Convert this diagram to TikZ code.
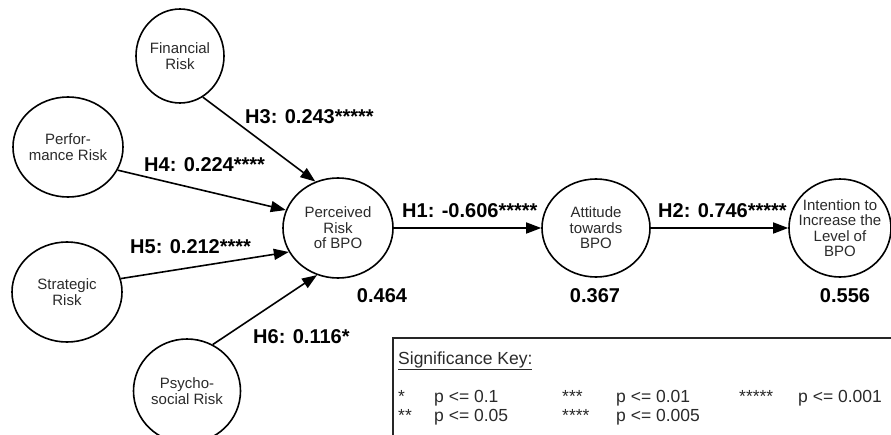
\documentclass[tikz,border=0pt]{standalone}
\usepackage{fontspec}
\setmainfont{Liberation Sans}
\usetikzlibrary{shapes.geometric,arrows.meta}
\definecolor{txtgray}{HTML}{2A2A2A}
\tikzset{
  circ/.style={ellipse, draw=black, line width=1.6pt, inner sep=0pt, minimum width=#1},
  lab/.style={align=center, text=txtgray, font=\fontsize{15}{15.5}\selectfont, inner sep=0pt},
  coef/.style={font=\fontsize{20}{24}\selectfont\bfseries, inner sep=0pt, anchor=west},
  rsq/.style={font=\fontsize{20}{24}\selectfont\bfseries, inner sep=0pt},
  keytxt/.style={font=\fontsize{17.5}{19}\selectfont, text=txtgray, inner sep=0pt, anchor=base west},
  arr/.style={line width=1.6pt, -{Triangle[length=15pt,width=11pt]}}
}
\begin{document}
\begin{tikzpicture}[x=1pt,y=-1pt]
\useasboundingbox (0,0) rectangle (891,434);
% nodes
\node[circ=88pt, minimum height=94pt, label={[lab]center:Financial\\Risk}] (fin) at (180,56) {};
\node[circ=110pt, minimum height=100pt, label={[lab]center:Perfor-\\mance Risk}] (perf) at (68,147) {};
\node[circ=110pt, minimum height=100pt, label={[lab]center:Strategic\\Risk}] (strat) at (67,292) {};
\node[circ=107pt, minimum height=104pt, label={[lab]center:Psycho-\\social Risk}] (psy) at (187,391) {};
\node[circ=110pt, minimum height=100pt, label={[lab]center:Perceived\\Risk\\of BPO}] (per) at (338,228) {};
\node[circ=108pt, minimum height=98pt, label={[lab]center:Attitude\\towards\\BPO}] (att) at (596,228) {};
\node[circ=102pt, minimum height=98pt, label={[lab]center:Intention to\\Increase the\\Level of\\BPO}] (int) at (840,228) {};
% arrows
\draw[arr] (fin.-61.5) -- (per.116);
\draw[arr] (perf.-25.7) -- (per.161);
\draw[arr] (strat.14.5) -- (per.-154);
\draw[arr] (psy.61.5) -- (per.-114);
\draw[arr] (per.east) -- (att.west);
\draw[arr] (att.east) -- (int.west);
% coefficient labels
\node[coef] (h3) at (245,117) {H3: 0.243*****};
\node[coef] (h4) at (144,165) {H4: 0.224****};
\node[coef] (h5) at (130,247) {H5: 0.212****};
\node[coef] (h6) at (253,337) {H6: 0.116*};
\node[coef] (h1) at (402,211) {H1: -0.606*****};
\node[coef] (h2) at (658,211) {H2: 0.746*****};
\node[rsq] (r1) at (382,296) {0.464};
\node[rsq] (r2) at (595,296) {0.367};
\node[rsq] (r3) at (845,296) {0.556};
% key
\draw[line width=1.1pt, draw=black!85] (393,338) rectangle (900,445);
\node[keytxt] (kt) at (398,364) {\underline{Significance Key:}};
\node[keytxt] (s1) at (398,402) {*};
\node[keytxt] (p1) at (434,402) {p <= 0.1};
\node[keytxt] (s3) at (562,402) {***};
\node[keytxt] (p3) at (616,402) {p <= 0.01};
\node[keytxt] (s5) at (739,402) {*****};
\node[keytxt] (p5) at (798,402) {p <= 0.001};
\node[keytxt] (s2) at (398,421) {**};
\node[keytxt] (p2) at (434,421) {p <= 0.05};
\node[keytxt] (s4) at (562,421) {****};
\node[keytxt] (p4) at (616,421) {p <= 0.005};
\end{tikzpicture}
\end{document}
